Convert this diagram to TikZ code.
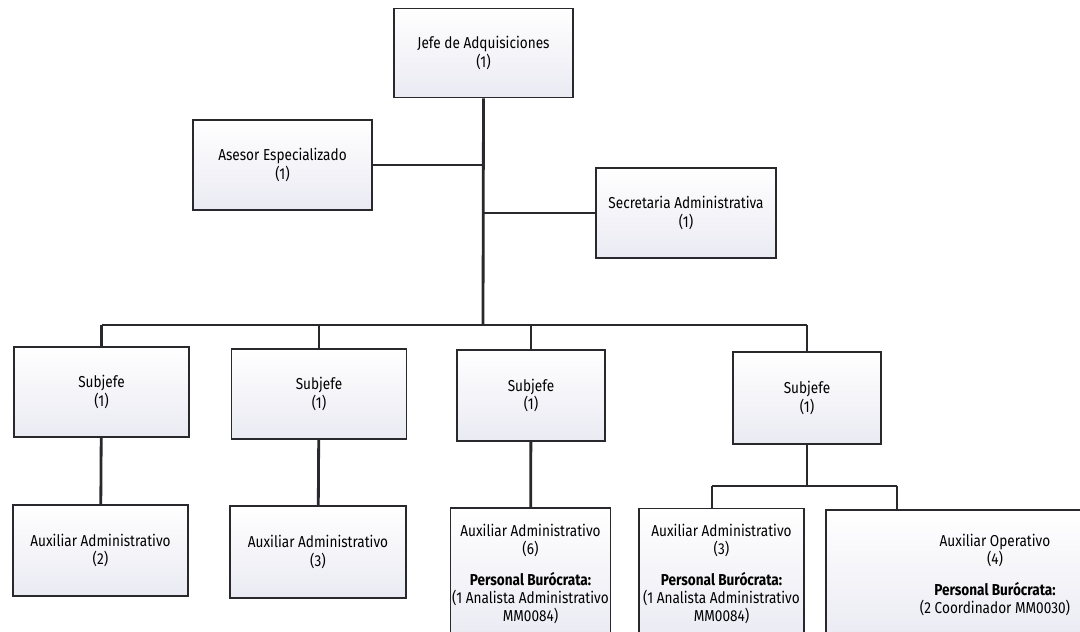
\documentclass[tikz,border=0pt]{standalone}
\usepackage{fontspec}
\setmainfont[FakeStretch=0.86]{Fira Sans}
\usetikzlibrary{positioning, calc}

\definecolor{boxlav}{RGB}{234,234,243}
\definecolor{edge}{RGB}{40,40,45}

\tikzset{
  orgbox/.style={draw=edge, line width=0.9pt, top color=white, bottom color=boxlav,
    align=center, inner xsep=1pt, inner ysep=2pt, font=\fontsize{9}{10.3}\selectfont},
  link/.style={draw=edge, line width=1.6pt}
}

\begin{document}
\begin{tikzpicture}[x=0.02cm, y=-0.02cm]

  % page
  \useasboundingbox[fill=white] (0,0) rectangle (1080,632);

  % Top of the chart
  \node (jefe) [orgbox, minimum width=3.58cm, minimum height=1.78cm] at (483.5,53) {Jefe de Adquisiciones\\(1)};
  \node (asesor) [orgbox, minimum width=3.58cm, minimum height=1.8cm] at (282.5,165) {Asesor Especializado\\(1)};
  \node (secre) [orgbox, minimum width=3.6cm, minimum height=1.8cm] at (686,213) {Secretaria Administrativa\\(1)};

  % Subjefes
  \node (sub1) [orgbox, minimum width=3.5cm, minimum height=1.8cm] at (101.5,392) {Subjefe\\(1)};
  \node (sub2) [orgbox, minimum width=3.5cm, minimum height=1.8cm] at (319,394) {Subjefe\\(1)};
  \node (sub3) [orgbox, minimum width=2.96cm, minimum height=1.82cm] at (531,395.5) {Subjefe\\(1)};
  \node (sub4) [orgbox, minimum width=2.96cm, minimum height=1.84cm] at (807,398) {Subjefe\\(1)};

  % Auxiliares
  \node (aux1) [orgbox, minimum width=3.5cm, minimum height=1.82cm] at (100.5,550.5) {Auxiliar Administrativo\\(2)};
  \node (aux2) [orgbox, minimum width=3.52cm, minimum height=1.84cm] at (318,552) {Auxiliar Administrativo\\(3)};
  \node (aux3) [orgbox, minimum width=2.94cm, minimum height=2.64cm] at (530.5,574) {Auxiliar Administrativo\\(6)\\[7pt]\textbf{Personal Burócrata:}\\(1 Analista Administrativo\\MM0084)};
  \node (aux4) [orgbox, minimum width=3.3cm, minimum height=2.62cm] at (721.5,574) {Auxiliar Administrativo\\(3)\\[7pt]\textbf{Personal Burócrata:}\\(1 Analista Administrativo\\MM0084)};
  \node (aux5) [orgbox, minimum width=6.76cm, minimum height=2.6cm] at (995,575) {Auxiliar Operativo\\(4)\\[7pt]\textbf{Personal Burócrata:}\\(2 Coordinador MM0030)};

  % Connectors
  \coordinate (bus) at (483,325);
  \draw[link] (jefe.south) -- (bus);
  \draw[link] (asesor.east) -- (asesor.east -| bus);
  \draw[link] (secre.west -| bus) -- (secre.west);
  \draw[link] (sub1.north |- bus) -- (sub4.north |- bus);
  \foreach \s in {sub1,sub2,sub3,sub4}
    \draw[link] (\s.north |- bus) -- (\s.north);
  \draw[link] (sub1) -- (aux1);
  \draw[link] (sub2) -- (aux2);
  \draw[link] (sub3) -- (aux3);

  % split under the last Subjefe
  \coordinate (d4) at (712,486);
  \coordinate (d5) at (897,486);
  \draw[link] (sub4.south) -- (sub4.south |- d4);
  \draw[link] (d4) -- (d5);
  \draw[link] (d4) -- (d4 |- aux4.north);
  \draw[link] (d5) -- (d5 |- aux5.north);

\end{tikzpicture}
\end{document}
